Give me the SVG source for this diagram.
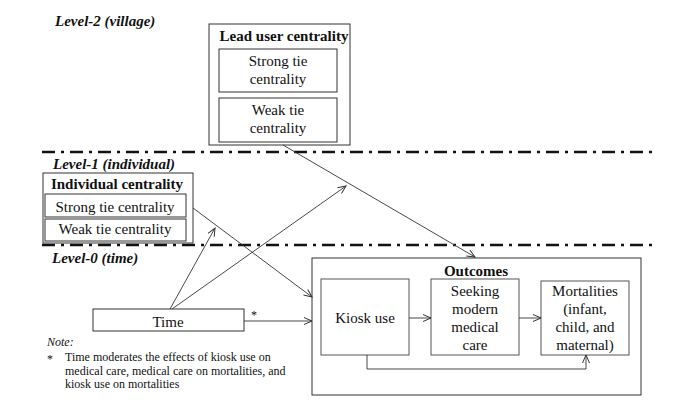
<svg xmlns="http://www.w3.org/2000/svg" width="673" height="411" viewBox="0 0 673 411">
<defs>
<marker id="arr" viewBox="0 0 10 8" refX="9" refY="4" markerWidth="10" markerHeight="8" markerUnits="userSpaceOnUse" orient="auto">
<path d="M1,0.5 L9,4 L1,7.5" fill="none" stroke="#333" stroke-width="1"/>
</marker>
</defs>
<style>
text{font-family:'Liberation Serif','Times New Roman','DejaVu Serif',serif;fill:#111}
.t{font-size:15px;text-anchor:middle}
.b{font-size:15px;font-weight:bold;text-anchor:middle}
.lv{font-size:15px;font-weight:bold;font-style:italic}
.n{font-size:12px}
.box{fill:#fff;stroke:#333;stroke-width:1}
.ibox{fill:#fff;stroke:#555;stroke-width:1}
.ln{fill:none;stroke:#333;stroke-width:0.9}
.dd{fill:none;stroke:#111;stroke-width:2.5;stroke-dasharray:13 6 3 6}
</style>
<rect width="673" height="411" fill="#fff"/>

<g font-family="Liberation Serif, Times New Roman, DejaVu Serif, serif">
<g id="levels">
<line class="dd" x1="42" y1="152" x2="652" y2="152"/>
<line class="dd" x1="42" y1="245" x2="652" y2="245"/>
<text class="lv" x="55" y="26">Level-2 (village)</text>
<text class="lv" x="53" y="169">Level-1 (individual)</text>
<text class="lv" x="52" y="263">Level-0 (time)</text>
</g>

<g id="lead-user">
<rect class="box" x="209" y="24" width="141" height="121"/>
<text class="b" x="284" y="41">Lead user centrality</text>
<rect class="box" x="219" y="49" width="118" height="43"/>
<text class="t" x="278" y="66">Strong tie</text>
<text class="t" x="278" y="84">centrality</text>
<rect class="box" x="219" y="98" width="118" height="44"/>
<text class="t" x="278" y="115">Weak tie</text>
<text class="t" x="278" y="133">centrality</text>
</g>

<g id="individual">
<rect class="box" x="43" y="173" width="150" height="70"/>
<text class="b" x="117" y="189">Individual centrality</text>
<rect class="box" x="45" y="194" width="141" height="23"/>
<text class="t" x="115" y="212">Strong tie centrality</text>
<rect class="box" x="45" y="219" width="141" height="22"/>
<text class="t" x="115" y="234">Weak tie centrality</text>
</g>

<g id="outcomes">
<rect class="box" x="312" y="258" width="329" height="137"/>
<text class="b" x="476" y="276">Outcomes</text>
</g>
<g id="kiosk">
<rect class="ibox" x="321" y="279" width="88" height="76"/>
<text class="t" x="365" y="323">Kiosk use</text>
</g>
<g id="seeking">
<rect class="ibox" x="431" y="279" width="88" height="76"/>
<text class="t" x="475" y="296">Seeking</text>
<text class="t" x="475" y="314">modern</text>
<text class="t" x="475" y="332">medical</text>
<text class="t" x="475" y="350">care</text>
</g>
<g id="mortalities">
<rect class="ibox" x="541" y="281" width="88" height="74"/>
<text class="t" x="585" y="296">Mortalities</text>
<text class="t" x="585" y="314">(infant,</text>
<text class="t" x="585" y="332">child, and</text>
<text class="t" x="585" y="350">maternal)</text>
</g>

<g id="time">
<rect class="box" x="93" y="309" width="151" height="22"/>
<text class="t" x="168" y="327">Time</text>
</g>

<g id="note">
<text class="n" x="47" y="346" font-style="italic">Note:</text>
<text class="n" x="47" y="363">*</text>
<text class="n" x="65" y="361">Time moderates the effects of kiosk use on</text>
<text class="n" x="65" y="375">medical  care, medical  care on mortalities,  and</text>
<text class="n" x="65" y="388">kiosk use on mortalities</text>
</g>

<g id="connectors">
<line class="ln" x1="283" y1="145" x2="475" y2="257" marker-end="url(#arr)"/>
<line class="ln" x1="193" y1="208" x2="312" y2="297" marker-end="url(#arr)"/>
<line class="ln" x1="170" y1="309" x2="215" y2="228" marker-end="url(#arr)"/>
<line class="ln" x1="172" y1="309" x2="346" y2="186" marker-end="url(#arr)"/>
<line class="ln" x1="244" y1="321" x2="312" y2="321" marker-end="url(#arr)"/>
<text class="n" x="251" y="319">*</text>
<line class="ln" x1="409" y1="318" x2="431" y2="318" marker-end="url(#arr)"/>
<line class="ln" x1="519" y1="318" x2="541" y2="318" marker-end="url(#arr)"/>
<path class="ln" d="M367,355 V369 H586 V355" marker-end="url(#arr)"/>
</g>
</g>
</svg>
